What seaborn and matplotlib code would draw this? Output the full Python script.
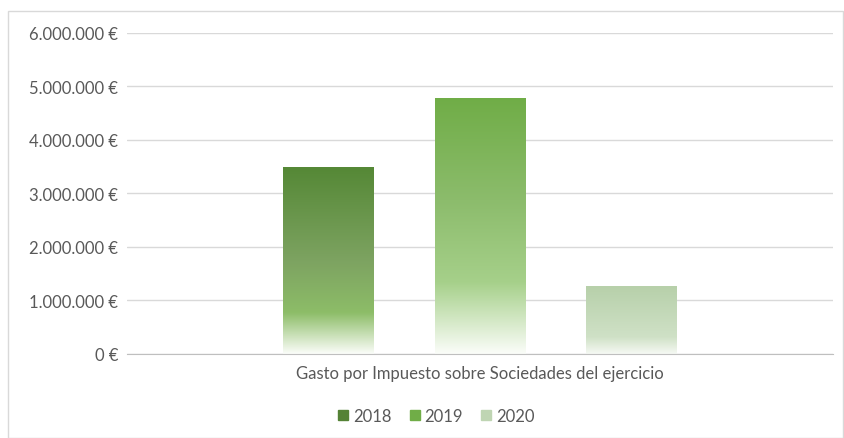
import numpy as np
import pandas as pd
import matplotlib
matplotlib.use("Agg")
import matplotlib.pyplot as plt
import seaborn as sns
from matplotlib.colors import LinearSegmentedColormap
from matplotlib.patches import Rectangle
from matplotlib.ticker import FuncFormatter

categoria = ["Gasto por Impuesto sobre Sociedades del ejercicio"]
years = ["2018", "2019", "2020"]
valores = [3480000, 4780000, 1260000]

# gradient stops per year: (position from base, colour)
gradientes = {
    "2018": [(0.0, "#fbfdf9"), (0.22, "#8dbd68"), (0.5, "#7da361"), (1.0, "#558836")],
    "2019": [(0.0, "#fbfdf9"), (0.28, "#a6d08a"), (0.6, "#8cbc6c"), (1.0, "#70ad47")],
    "2020": [(0.0, "#f6f9f4"), (0.25, "#cfe1c6"), (1.0, "#b7d0aa")],
}
legend_colors = {"2018": "#548235", "2019": "#70ad47", "2020": "#bfd5b3"}

df = pd.DataFrame({
    "categoria": categoria * len(years),
    "year": years,
    "valor": valores,
})

sns.set_style("white")
plt.rcParams["font.family"] = ["Lato", "DejaVu Sans"]
gris = "#595959"

fig = plt.figure(figsize=(8.44, 4.39), dpi=100)
ax = fig.add_axes([0.150, 0.192, 0.837, 0.7306])

sns.barplot(data=df, x="categoria", y="valor", hue="year", width=0.644, gap=0.406,
            palette=legend_colors, legend=False, ax=ax)

bars = [p for p in ax.patches if p.get_height() > 0]
bars = sorted(bars, key=lambda p: p.get_x())
for p, y in zip(bars, years):
    x0, w, h = p.get_x(), p.get_width(), p.get_height()
    cmap = LinearSegmentedColormap.from_list("g" + y, gradientes[y])
    grad = np.linspace(1, 0, 256).reshape(-1, 1)
    ax.imshow(grad, cmap=cmap, vmin=0, vmax=1, extent=[x0, x0 + w, 0, h],
              aspect="auto", zorder=2, interpolation="bicubic")
    p.set_visible(False)

ax.set_ylim(0, 6000000)
ax.set_xlim(-0.5, 0.5)

ax.yaxis.set_major_locator(plt.MultipleLocator(1000000))
ax.yaxis.set_major_formatter(FuncFormatter(
    lambda v, pos: "{:,.0f} €".format(v).replace(",", ".")))
ax.grid(axis="y", color="#d9d9d9", linewidth=1)
ax.set_axisbelow(True)
for s in ["top", "right", "left"]:
    ax.spines[s].set_visible(False)
ax.spines["bottom"].set_color("#bfbfbf")
ax.tick_params(axis="y", length=0, labelsize=12, colors=gris, pad=6)
ax.tick_params(axis="x", length=0, labelsize=12, colors=gris, pad=8)
ax.set_xlabel("")
ax.set_ylabel("")

handles = [plt.Line2D([], [], marker="s", linestyle="", markersize=6.5,
                      color=legend_colors[y]) for y in years]
fig.legend(handles, years, loc="center", bbox_to_anchor=(0.515, 0.05), ncol=3,
           frameon=False, fontsize=12, labelcolor=gris, handletextpad=0.1,
           columnspacing=0.9, handlelength=1.0)

fig.patches.append(Rectangle((8 / 844, 0.0), 835 / 844, 1 - 12 / 439,
                             transform=fig.transFigure, fill=False,
                             edgecolor="#d9d9d9", linewidth=1))

fig.savefig("out.png", dpi=100)
